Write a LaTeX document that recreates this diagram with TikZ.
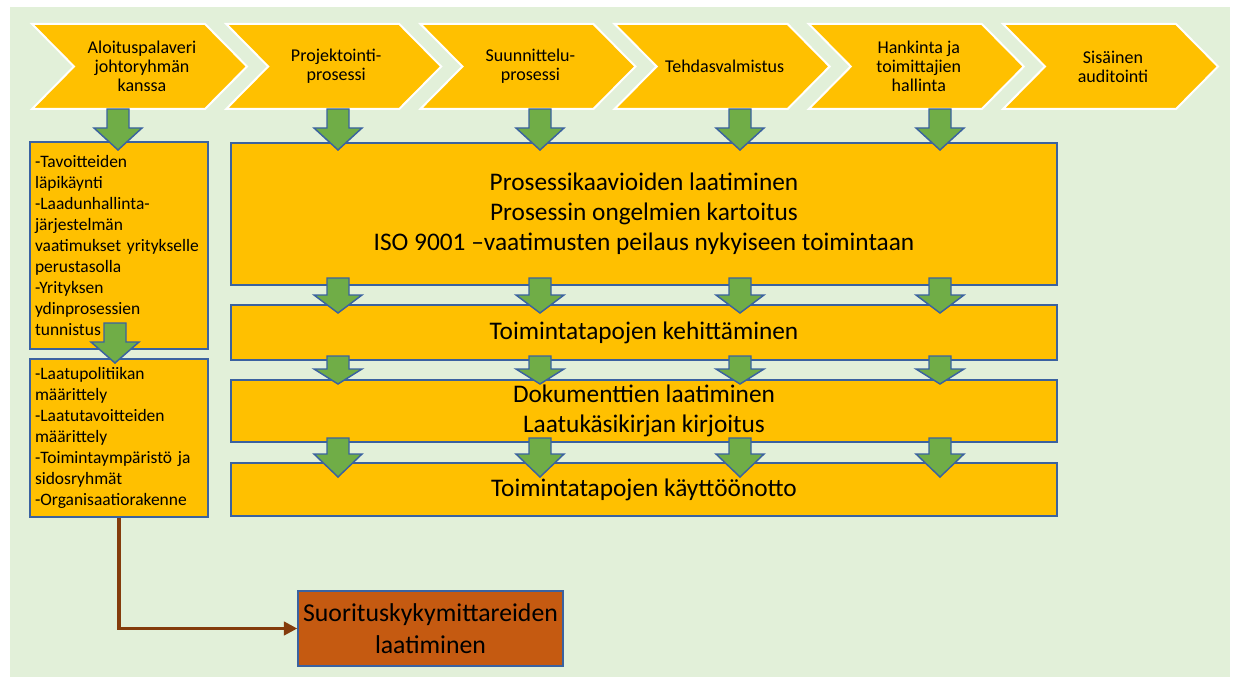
\documentclass[tikz,border=0pt]{standalone}
\usepackage{fontspec}
\setmainfont{Carlito}
\usetikzlibrary{positioning, arrows.meta}

\definecolor{bggreen}{HTML}{E2F0D9}
\definecolor{amber}{HTML}{FFC000}
\definecolor{leafgreen}{HTML}{70AD47}
\definecolor{edgeblue}{HTML}{3A62A0}
\definecolor{rust}{HTML}{C55A11}
\definecolor{darkrust}{HTML}{843C0C}

\newlength\px
\setlength\px{0.75pt}

\tikzset{
    chevronshape/.style={fill=amber, draw=white, line width=1.5pt},
    chevrontext/.style={align=center, font=\fontsize{13.5}{14.3}\selectfont, inner sep=0pt},
    stagebox/.style={draw=edgeblue, fill=amber, line width=1.1pt, align=center,
        font=\fontsize{19}{22.6}\selectfont, inner sep=0pt},
    notebox/.style={draw=edgeblue, fill=amber, line width=1.1pt, align=left,
        font=\fontsize{13.1}{15.75}\selectfont, inner xsep=5\px, inner ysep=0pt, text width=168\px},
    kpibox/.style={draw=edgeblue, fill=rust, line width=1.1pt, align=center,
        font=\fontsize{19.3}{24}\selectfont, inner sep=0pt},
    greenarrow/.style={fill=leafgreen, draw=edgeblue, line width=1.1pt, line join=miter},
    flowline/.style={draw=darkrust, line width=2.3pt, -{Triangle[length=10pt,width=10pt]}}
}

% block arrow: x, shaft top, head top, tip
\newcommand\greenarrow[4]{%
    \draw[greenarrow] (#1-11,#2) -- (#1+11,#2) -- (#1+11,#3) -- (#1+24,#3)
        -- (#1,#4) -- (#1-24,#3) -- (#1-11,#3) -- cycle;}

\begin{document}
\begin{tikzpicture}[x=1\px, y=-1\px]

\useasboundingbox (0,0) rectangle (1237,677);
\fill[bggreen] (10,7) rectangle (1230,677);

% Process chevrons
\foreach \i/\name/\txt in {
    0/kickoff/{Aloituspalaveri\\johtoryhmän\\kanssa},
    1/projecting/{Projektointi-\\prosessi},
    2/design/{Suunnittelu-\\prosessi},
    3/factory/{Tehdasvalmistus},
    4/procurement/{Hankinta ja\\toimittajien\\hallinta},
    5/audit/{Sisäinen\\auditointi}}
{
    \pgfmathsetmacro\xs{32+\i*194.2}
    \draw[chevronshape] (\xs,24) -- (\xs+173,24) -- (\xs+215,66.5) -- (\xs+173,109)
        -- (\xs,109) -- (\xs+42,66.5) -- cycle;
    \node[chevrontext] (\name) at (\xs+110,66.5) {\txt};
}

% Left column
\node[notebox, minimum height=207\px] (goals) at (119,245.5)
    {-Tavoitteiden\\läpikäynti\\-Laadunhallinta-\\järjestelmän\\vaatimukset yritykselle\\perustasolla\\-Yrityksen\\ydinprosessien\\tunnistus};
\node[notebox, minimum height=158\px] (policy) at (119,438)
    {-Laatupolitiikan\\määrittely\\-Laatutavoitteiden\\määrittely\\-Toimintaympäristö ja\\sidosryhmät\\-Organisaatiorakenne};

% Main stages
\node[stagebox, minimum width=826\px, minimum height=142\px] (charts) at (644,214)
    {Prosessikaavioiden laatiminen\\Prosessin ongelmien kartoitus\\ISO 9001 –vaatimusten peilaus nykyiseen toimintaan};
\node[stagebox, minimum width=826\px, minimum height=55\px] (methods) at (644,332.5)
    {Toimintatapojen kehittäminen};
\node[stagebox, minimum width=826\px, minimum height=62\px] (docs) at (644,411)
    {Dokumenttien laatiminen\\Laatukäsikirjan kirjoitus};
\node[stagebox, minimum width=826\px, minimum height=53\px] (rollout) at (644,489.5)
    {Toimintatapojen käyttöönotto};

\node[kpibox, minimum width=265\px, minimum height=75\px] (kpi) at (430.5,628.5)
    {Suorituskykymittareiden\\laatiminen};

% Connector
\draw[flowline] (policy.south) |- (kpi.west);

% Green arrows
\greenarrow{118}{109}{128}{150}
\foreach \x in {338,540,740,940} {
    \greenarrow{\x}{109}{128}{150}
    \greenarrow{\x}{278}{295}{313}
    \greenarrow{\x}{356}{369}{384}
    \greenarrow{\x}{438}{454}{477}
}
\greenarrow{115}{323}{342}{363}

\end{tikzpicture}
\end{document}
